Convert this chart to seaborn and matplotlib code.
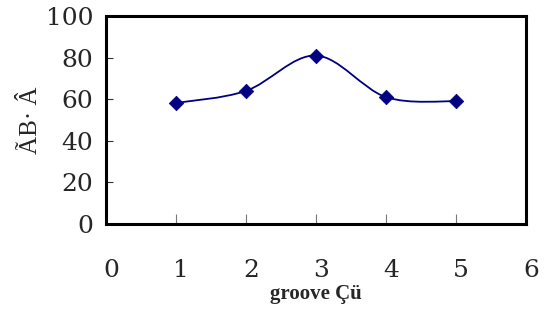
import numpy as np
import pandas as pd
import matplotlib
matplotlib.use("Agg")
import matplotlib.pyplot as plt
import matplotlib.transforms as mtransforms
from matplotlib.path import Path
from matplotlib.patches import PathPatch
import seaborn as sns

# data
groove = [1, 2, 3, 4, 5]
values = [58.2, 64.0, 81.0, 61.0, 59.0]
x_ticks = [0, 1, 2, 3, 4, 5, 6]
y_ticks = [0, 20, 40, 60, 80, 100]
x_label = "groove Çü"
y_label = "ÃΒ· Â"

navy = "#000080"

sns.set_theme(style="white")
plt.rcParams["font.family"] = ["Liberation Serif", "DejaVu Serif"]

df = pd.DataFrame({"groove": groove, "value": values})

fig = plt.figure(figsize=(5.5, 3.24), dpi=100)
ax = fig.add_axes([106 / 550, 1 - 224 / 324, 420 / 550, 208 / 324])

# smoothed line like the spreadsheet "smooth line" option (bezier through the points)
pts = df[["groove", "value"]].to_numpy(dtype=float)
verts = [tuple(pts[0])]
codes = [Path.MOVETO]
n = len(pts)
for i in range(n - 1):
    p0 = pts[i - 1] if i > 0 else pts[i]
    p1 = pts[i]
    p2 = pts[i + 1]
    p3 = pts[i + 2] if i + 2 < n else pts[i + 1]
    c1 = p1 + (p2 - p0) / 6
    c2 = p2 - (p3 - p1) / 6
    verts += [tuple(c1), tuple(c2), tuple(p2)]
    codes += [Path.CURVE4] * 3
ax.add_patch(PathPatch(Path(verts, codes), facecolor="none", edgecolor=navy, lw=1.3, zorder=2))

sns.scatterplot(data=df, x="groove", y="value", marker="D", s=55, color=navy,
                edgecolor=navy, linewidth=0.5, ax=ax, zorder=3)

ax.set_xlim(0, 6)
ax.set_ylim(0, 100)
ax.set_xticks(x_ticks)
ax.set_yticks(y_ticks)
ax.set_xticklabels([str(t) for t in x_ticks])
ax.set_yticklabels([str(t) for t in y_ticks])

for s in ax.spines.values():
    s.set_color("black")
    s.set_linewidth(2.2)

ax.tick_params(axis="y", direction="in", length=5, width=0.8, color="#333333",
               labelsize=18, pad=9, left=True)
ax.tick_params(axis="x", direction="in", length=7, width=0.8, color="#777777",
               labelsize=18, pad=25, bottom=True)
ax.tick_params(axis="x", which="both", top=False)
ax.tick_params(axis="y", which="both", right=False)
for lbl in ax.get_xticklabels() + ax.get_yticklabels():
    lbl.set_fontfamily(["DejaVu Serif"])

# tick labels sit a bit to the right in the original
offset = mtransforms.ScaledTranslation(5 / 100, 0, fig.dpi_scale_trans)
for lbl in ax.get_xticklabels():
    lbl.set_transform(lbl.get_transform() + offset)

ax.set_xlabel(x_label, fontsize=15, fontweight="semibold", labelpad=2)
ax.set_ylabel(y_label, fontsize=18, labelpad=3)

fig.savefig("out.png", dpi=100, facecolor="white")
